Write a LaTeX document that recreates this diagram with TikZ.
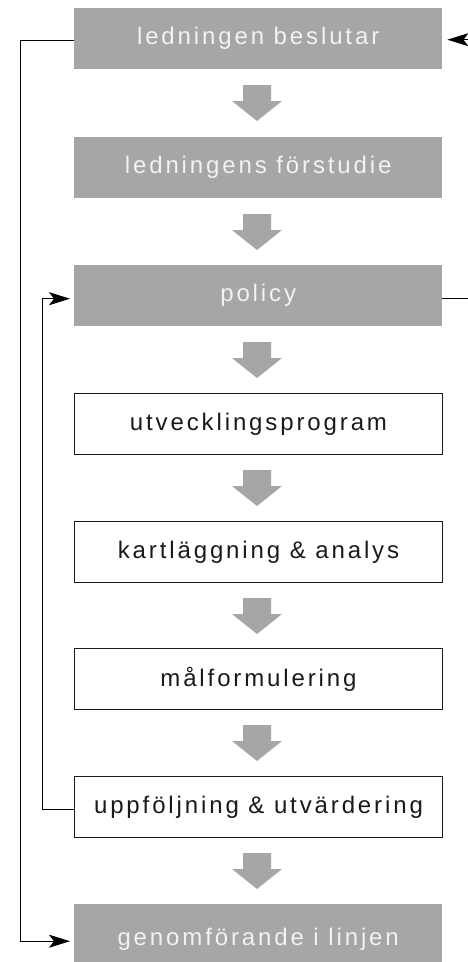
\documentclass[tikz,border=0pt]{standalone}
\usepackage{fontspec}
\setmainfont{Liberation Sans}[LetterSpace=12]
\usetikzlibrary{arrows.meta}
\definecolor{boxgray}{HTML}{A6A6A6}
\definecolor{lighttext}{HTML}{F2F2F2}
\definecolor{darktext}{HTML}{1A1A1A}
\tikzset{
  basebox/.style={rectangle, minimum width=368pt, minimum height=61pt, inner sep=0pt, anchor=north west,
    font=\fontsize{24}{28}\selectfont},
  graybox/.style={basebox, fill=boxgray, text=lighttext},
  whitebox/.style={basebox, draw=darktext, line width=1pt, fill=white, text=darktext},
  conn/.style={draw=black, line width=1pt},
  tip/.style={-{Stealth[length=21pt,width=13pt,inset=5pt]}},
  bigarrow/.style={fill=boxgray, draw=none}
}
\newcommand{\downarrowat}[1]{%
  \fill[bigarrow] (243,#1+16) -- (271,#1+16) -- (271,#1+32) -- (282,#1+32) -- (257,#1+52) -- (232,#1+32) -- (243,#1+32) -- cycle;}
\begin{document}
\begin{tikzpicture}[x=1pt,y=-1pt]
\useasboundingbox (0,0) rectangle (468,962);
\clip (0,0) rectangle (468,962);
\fill[white] (0,0) rectangle (468,962);

\node[graybox] (b1) at (74,8) {ledningen beslutar};
\node[graybox] (b2) at (74,137) {ledningens förstudie};
\node[graybox] (b3) at (74,265) {policy};
\node[whitebox] (b4) at (74,393) {utvecklingsprogram};
\node[whitebox] (b5) at (74,521) {kartläggning \& analys};
\node[whitebox] (b6) at (74,648) {målformulering};
\node[whitebox] (b7) at (74,776) {uppföljning \& utvärdering};
\node[graybox, minimum height=70pt] (b8) at (74,904) {genomförande i linjen};

\downarrowat{69}
\downarrowat{198}
\downarrowat{326}
\downarrowat{454}
\downarrowat{582}
\downarrowat{709}
\downarrowat{837}

% outer left loop: ledningen beslutar -> genomförande i linjen
\coordinate (o1) at ([yshift=-1.5pt]b1.west);
\coordinate (o2) at ([yshift=-2pt]b8.west);
\draw[conn, tip] (o1) -| (20,0 |- o2) -- ([xshift=-4pt]o2);

% inner left loop: uppföljning -> policy
\coordinate (i1) at ([yshift=-2.5pt]b7.west);
\coordinate (i2) at ([yshift=-3pt]b3.west);
\draw[conn, tip] (i1) -- (42,0 |- i1) -- (42,0 |- i2) -- ([xshift=-4pt]i2);

% right loop: policy -> ledningen beslutar (vertical runs outside the frame)
\coordinate (r1) at ([yshift=-2.5pt]b3.east);
\coordinate (r2) at ([yshift=-1pt]b1.east);
\draw[conn, tip] (r1) -- (490,0 |- r1) -- (490,0 |- r2) -- ([xshift=5pt]r2);
\end{tikzpicture}
\end{document}
